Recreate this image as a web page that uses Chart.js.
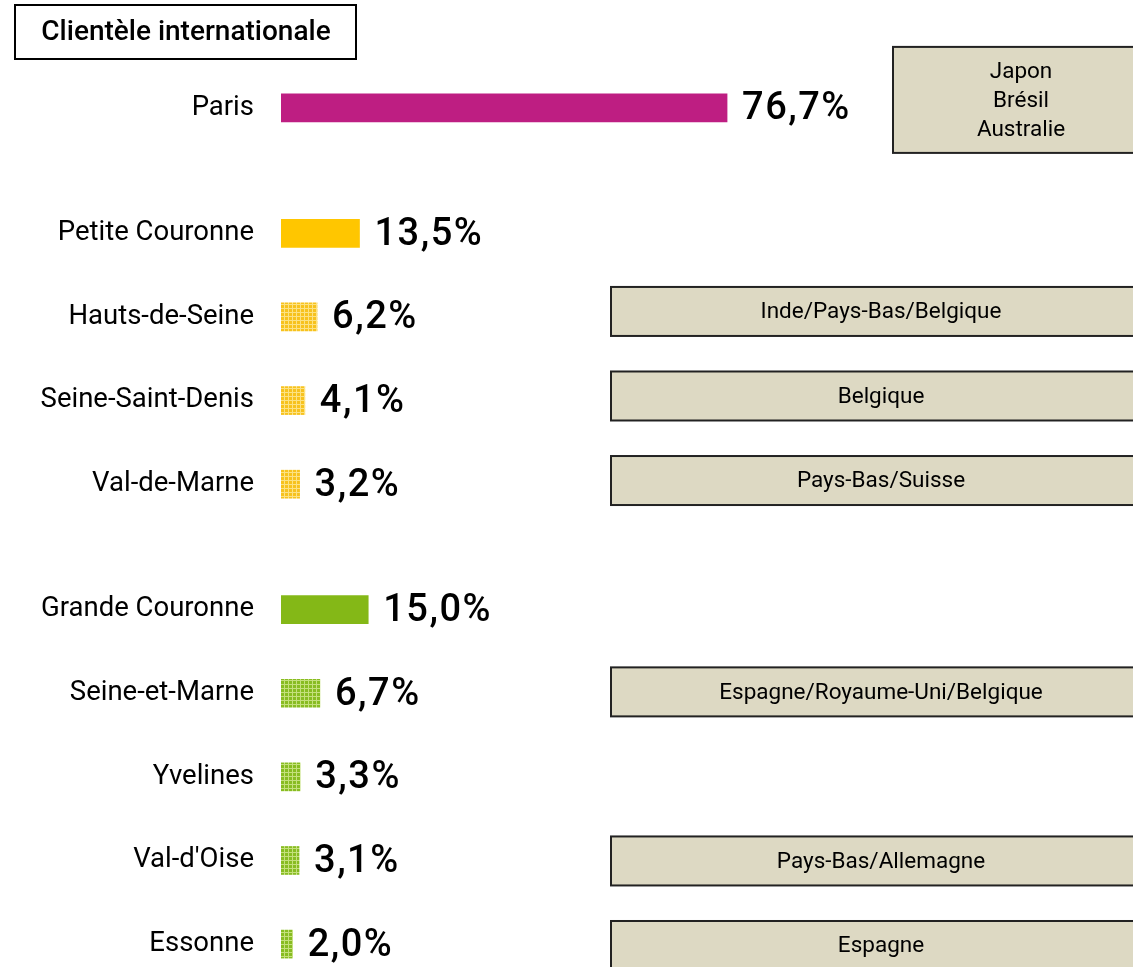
<!DOCTYPE html>
<html>
<head>
<meta charset="utf-8">
<script src="https://cdn.jsdelivr.net/npm/chart.js@4.4.1/dist/chart.umd.min.js"></script>
<style>
  html, body { margin: 0; background: #fff; }
  #wrap { width: 1133px; height: 967px; position: relative; }
</style>
</head>
<body>
<div id="wrap"><canvas id="chart"></canvas></div>
<script>
// Clientèle internationale : part des nuitées par territoire
const regions = ['Paris', 'Petite Couronne', 'Hauts-de-Seine', 'Seine-Saint-Denis', 'Val-de-Marne',
  'Grande Couronne', 'Seine-et-Marne', 'Yvelines', "Val-d'Oise", 'Essonne'];
const shares = [76.7, 13.5, 6.2, 4.1, 3.2, 15.0, 6.7, 3.3, 3.1, 2.0];
const groups = ['paris', 'petite', 'petite', 'petite', 'petite', 'grande', 'grande', 'grande', 'grande', 'grande'];
const levels = ['total', 'total', 'dept', 'dept', 'dept', 'total', 'dept', 'dept', 'dept', 'dept'];
const topMarkets = ['Japon\nBrésil\nAustralie', '', 'Inde/Pays-Bas/Belgique', 'Belgique', 'Pays-Bas/Suisse',
  '', 'Espagne/Royaume-Uni/Belgique', '', 'Pays-Bas/Allemagne', 'Espagne'];

const FONT = "Roboto, 'Open Sans', sans-serif";

function makePattern(base, light) {
  const c = document.createElement('canvas');
  c.width = 4; c.height = 4;
  const g = c.getContext('2d');
  g.fillStyle = base; g.fillRect(0, 0, 4, 4);
  g.fillStyle = light; g.fillRect(0, 0, 4, 1); g.fillRect(0, 0, 1, 4);
  return g.createPattern(c, 'repeat');
}

const solid = { paris: '#BE1E82', petite: '#FFC600', grande: '#84B817' };
const hatched = {
  petite: makePattern('#F7C21E', '#FCE283'),
  grande: makePattern('#88BC22', '#C4E07C')
};

// build the row list: one empty slot before a département, two before a new couronne
const labels = [], values = [], colors = [], rowOf = [];
regions.forEach((r, i) => {
  if (i > 0) {
    const gaps = levels[i] === 'total' ? 2 : 1;
    for (let k = 0; k < gaps; k++) { labels.push(''); values.push(null); colors.push('rgba(0,0,0,0)'); }
  }
  rowOf.push(labels.length);
  labels.push(r);
  values.push(shares[i]);
  colors.push(levels[i] === 'total' ? solid[groups[i]] : hatched[groups[i]]);
});

const annotations = {
  id: 'annotations',
  afterDraw(chart) {
    const ctx = chart.ctx, x = chart.scales.x, y = chart.scales.y;
    ctx.save();
    // value labels
    ctx.fillStyle = '#000';
    ctx.font = '500 38px ' + FONT;
    ctx.letterSpacing = '1.5px';
    ctx.textAlign = 'left';
    ctx.textBaseline = 'middle';
    regions.forEach((r, i) => {
      const yc = y.getPixelForValue(rowOf[i]);
      ctx.fillText(shares[i].toFixed(1).replace('.', ',') + '%', x.getPixelForValue(shares[i]) + 15, yc + 2);
    });
    ctx.letterSpacing = '0px';
    // main markets boxes (the column of boxes is spaced a touch wider than the bars)
    ctx.lineWidth = 2;
    ctx.strokeStyle = '#222';
    ctx.font = '22.5px ' + FONT;
    ctx.textAlign = 'center';
    const yFirst = y.getPixelForValue(rowOf[2]);
    topMarkets.forEach((t, i) => {
      if (!t) return;
      const yc = y.getPixelForValue(rowOf[i]);
      const lines = t.split('\n');
      let left, top, h;
      if (lines.length > 1) { left = 893; top = yc - 61; h = 106; }
      else { left = 611; top = yc - 30 + (yc - yFirst) * 0.011; h = 49; }
      ctx.fillStyle = '#DDD9C3';
      ctx.fillRect(left, top, 560, h);
      ctx.strokeRect(left, top, 560, h);
      ctx.fillStyle = '#000';
      const cx = lines.length > 1 ? 1021 : 881;
      lines.forEach((ln, k) => {
        ctx.fillText(ln, cx, top + h / 2 + (k - (lines.length - 1) / 2) * 29 + 1);
      });
    });
    // title box
    ctx.fillStyle = '#fff';
    ctx.fillRect(15, 5, 341, 54);
    ctx.strokeStyle = '#000';
    ctx.strokeRect(15, 5, 341, 54);
    ctx.fillStyle = '#000';
    ctx.font = '500 28px ' + FONT;
    ctx.fillText('Clientèle internationale', 186, 33);
    ctx.restore();
  }
};

new Chart(document.getElementById('chart'), {
  type: 'bar',
  data: {
    labels: labels,
    datasets: [{
      data: values,
      backgroundColor: colors,
      borderWidth: 0,
      barThickness: 28
    }]
  },
  options: {
    indexAxis: 'y',
    responsive: true,
    maintainAspectRatio: false,
    animation: false,
    layout: { padding: { top: 87, bottom: 2, left: 0, right: 0 } },
    plugins: { legend: { display: false }, tooltip: { enabled: false } },
    scales: {
      x: { display: false, min: 0, max: 146.5 },
      y: {
        grid: { display: false, drawTicks: false },
        border: { display: false },
        ticks: { color: '#000', font: { family: FONT, size: 27.5 }, padding: 27, autoSkip: false },
        afterFit(scale) { scale.width = 281; scale.paddingTop = 0; scale.paddingBottom = 0; }
      }
    }
  },
  plugins: [annotations]
});
</script>
</body>
</html>
